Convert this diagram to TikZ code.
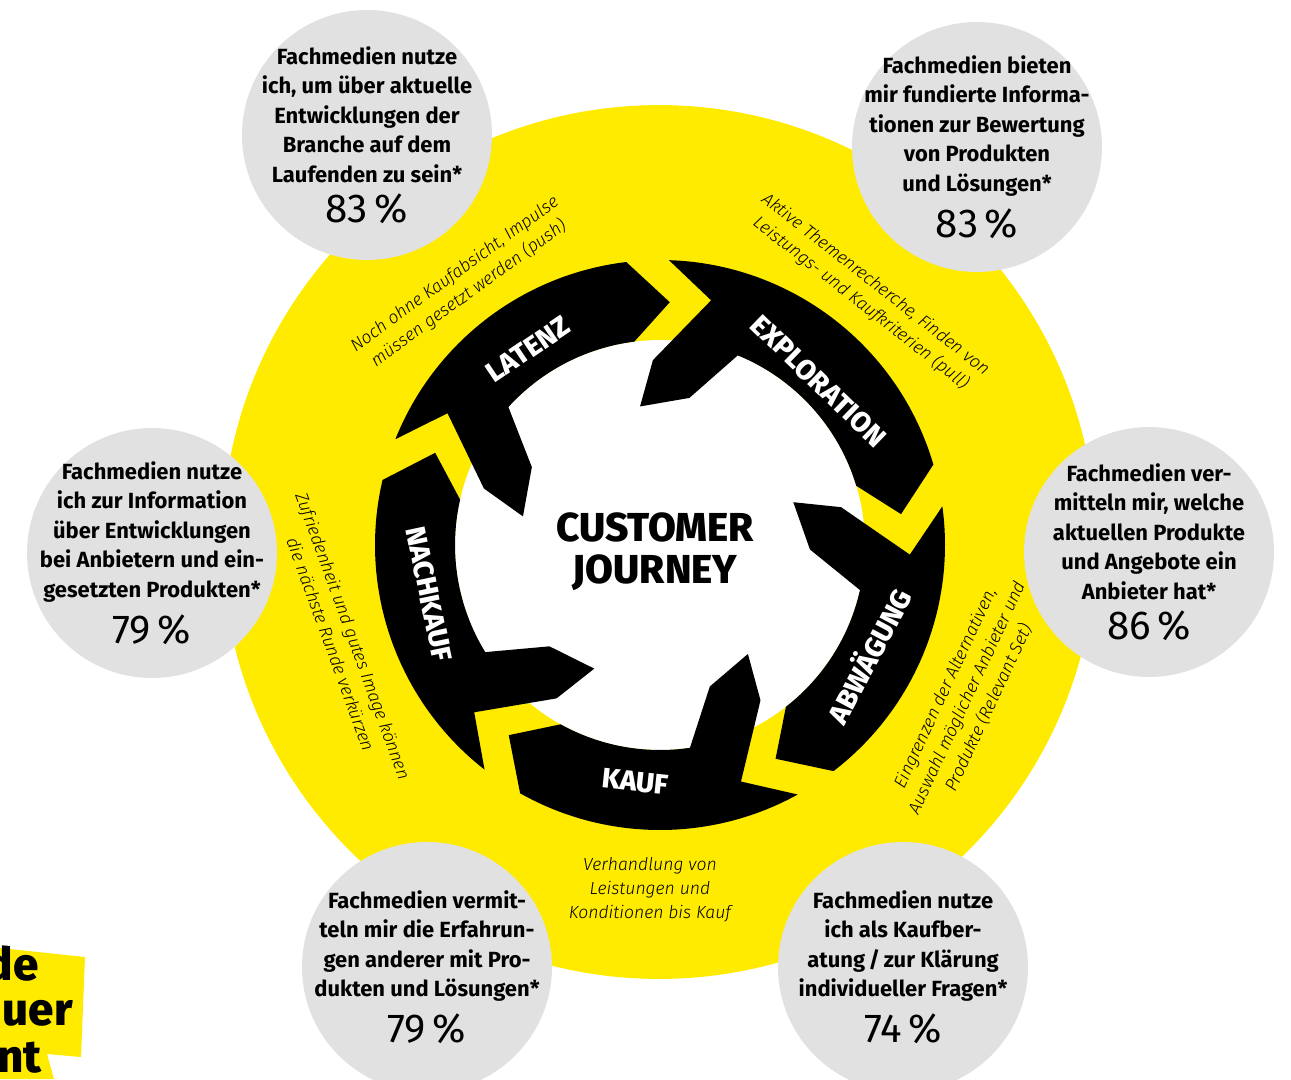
\documentclass[tikz,border=0pt]{standalone}
\usepackage{fontspec}
\setmainfont{Fira Sans}
\newfontfamily\heavyfont{Fira Sans ExtraBold}
\newfontfamily\noteitfont{Fira Sans Light Italic}
\usepackage{xcolor}
\usepackage{tikz}
\usetikzlibrary{
    positioning,
    calc
}
\definecolor{journeyyellow}{RGB}{255,235,0}
\definecolor{factgrey}{RGB}{225,225,225}
\tikzset{
    factcircle/.style={
        circle,
        fill=factgrey,
        minimum size=5cm,
        inner sep=-16pt,
        align=center,
        font=\fontsize{12.5}{16.8}\selectfont\bfseries
    }
}
\tikzset{
    phasearrow/.style={
        fill=black
    }
}
\tikzset{
    phaselabel/.style={
        text=white,
        inner sep=0pt,
        font=\fontsize{16}{18}\selectfont\heavyfont
    }
}
\tikzset{
    phasenote/.style={
        align=center,
        inner sep=0pt,
        font=\fontsize{10}{13.6}\selectfont\noteitfont
    }
}
\tikzset{
    journeytitle/.style={
        align=center,
        inner sep=0pt,
        font=\fontsize{23}{24}\selectfont\heavyfont
    }
}
\tikzset{
    remnant/.style={
        inner sep=0pt,
        font=\fontsize{26}{28}\selectfont\heavyfont
    }
}
\newcommand{\factpct}[1]{{\fontsize{23}{24}\selectfont\mdseries #1\,\%}}
% one bent phase arrow: tail angle, tail angle of the next phase
\newcommand{\journeyarrow}[2]{%
    \fill[phasearrow] (#1:285) -- (#1-10:250) -- (#1+4:185) -- (#1+10:140)
        -- (#1-9.5:150) -- (#1-20.5:205)
        arc[start angle=#1-20.5, end angle=#2+9, radius=205]
        -- (#2-0.5:243) -- (#2+8.6:285)
        arc[start angle=#2+8.6, end angle=#1, radius=285] -- cycle;}

\begin{document}
\begin{tikzpicture}[x=0.02cm, y=-0.02cm]

\clip (0,0) rectangle (1291,1079);

% background discs
\fill[journeyyellow] (659,542) circle [radius=8.74cm];
\fill[white] (660,545) circle [radius=4.1cm];

% the five phases
\begin{scope}[shift={(660,545)}, y=0.02cm]
\journeyarrow{158.2}{88.2}
\journeyarrow{88.2}{7.8}
\journeyarrow{7.8}{-61.1}
\journeyarrow{-61.1}{-128}
\journeyarrow{-128}{-201.8}

\node[phaselabel, rotate=34] (latenz) at (124:236) {LATENZ};
\node[phaselabel, rotate=-44] (exploration) at (46:228) {EXPLORATION};
\node[phaselabel, rotate=62] (abwaegung) at (-28:235) {ABWÄGUNG};
\node[phaselabel, rotate=-6] (kauf) at (-96:238) {KAUF};
\node[phaselabel, rotate=-78] (nachkauf) at (192:236) {NACHKAUF};
\end{scope}

\node[journeytitle] (journey) at (655,552) {CUSTOMER\\JOURNEY};

% notes along the ring
\node[phasenote, rotate=36] (latenznote) at (462,284)
    {Noch ohne Kaufabsicht, Impulse\\müssen gesetzt werden (push)};
\node[phasenote, rotate=-38] (explorationnote) at (868,294)
    {Aktive Themenrecherche, Finden von\\Leistungs- und Kaufkriterien (pull)};
\node[phasenote, rotate=65] (abwaegungnote) at (967,698)
    {Eingrenzen der Alternativen,\\Auswahl möglicher Anbieter und\\Produkte (Relevant Set)};
\node[phasenote] (kaufnote) at (650,890)
    {Verhandlung von\\Leistungen und\\Konditionen bis Kauf};
\node[phasenote, rotate=-70] (nachkaufnote) at (342,640)
    {Zufriedenheit und gutes Image können\\die nächste Runde verkürzen};

% survey circles
\node[factcircle] (latenzfact) at (367,135)
    {Fachmedien nutze\\ich, um über aktuelle\\Entwicklungen der\\Branche auf dem\\Laufenden zu sein*\\[6pt]\factpct{83}};
\node[factcircle] (explorationfact) at (977,147)
    {Fachmedien bieten\\mir fundierte Informa-\\tionen zur Bewertung\\von Produkten\\und Lösungen*\\[6pt]\factpct{83}};
\node[factcircle] (abwaegungfact) at (1149,552)
    {Fachmedien ver-\\mitteln mir, welche\\aktuellen Produkte\\und Angebote ein\\Anbieter hat*\\[6pt]\factpct{86}};
\node[factcircle] (kauffact) at (903,967)
    {Fachmedien nutze\\ich als Kaufber-\\atung\,/\,zur Klärung\\individueller Fragen*\\[6pt]\factpct{74}};
\node[factcircle] (erfahrungfact) at (427,967)
    {Fachmedien vermit-\\teln mir die Erfahrun-\\gen anderer mit Pro-\\dukten und Lösungen*\\[6pt]\factpct{79}};
\node[factcircle] (nachkauffact) at (152,553)
    {Fachmedien nutze\\ich zur Information\\über Entwicklungen\\bei Anbietern und ein-\\gesetzten Produkten*\\[6pt]\factpct{79}};

% cut-off neighbour at the lower left
\fill[journeyyellow] (0,948) -- (85,957) -- (81,1057) -- (47,1054)
    -- (54,1079) -- (0,1079) -- cycle;
\node[remnant, anchor=base east] (remnantone) at (39,980) {de};
\node[remnant, anchor=base east] (remnanttwo) at (73,1025) {uer};
\node[remnant, anchor=base east] (remnantthree) at (42,1072) {nt};

\end{tikzpicture}
\end{document}
